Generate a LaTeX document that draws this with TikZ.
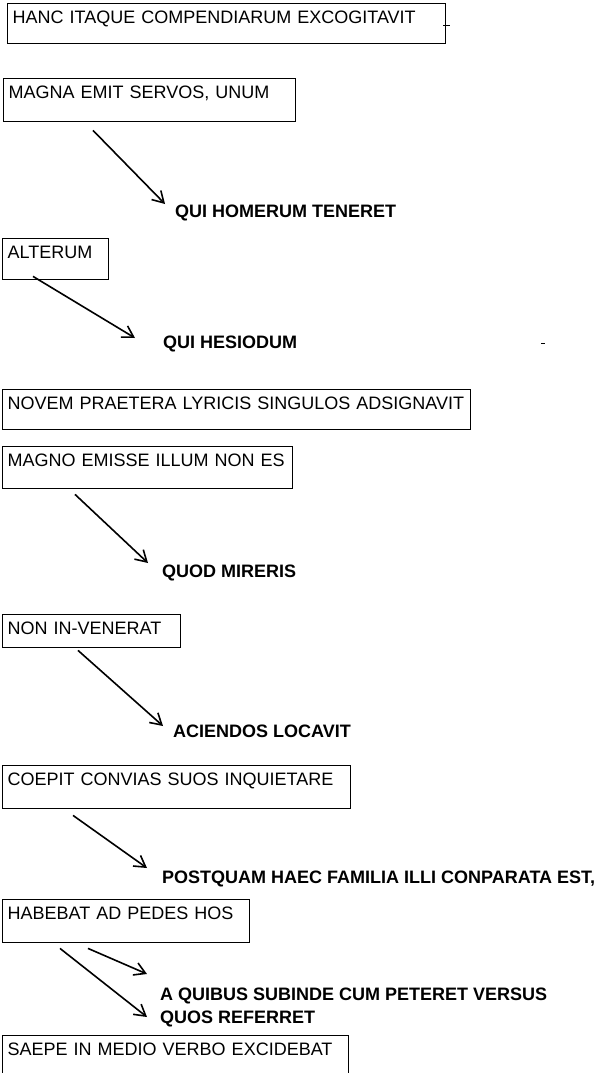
\documentclass[tikz,border=0pt]{standalone}
\usepackage{fontspec}
\setmainfont{Liberation Sans}
\usetikzlibrary{arrows.meta}
\begin{document}
\begin{tikzpicture}[x=1pt,y=-1pt,
  box/.style={draw, line width=1.4pt, anchor=north west, inner xsep=5pt, inner ysep=0pt, align=left,
    font=\fontsize{18}{21}\selectfont, text height=19.5pt},
  lbl/.style={anchor=base west, inner sep=0pt, font=\bfseries\fontsize{18}{21}\selectfont},
  arr/.style={line width=1.6pt, -{Straight Barb[length=11pt,width=13pt]}},
  speck/.style={line width=0.8pt}]
\useasboundingbox (0,0) rectangle (607,1073);
\clip (0,0) rectangle (607,1073);
% boxes
\node[box, text width=428pt, text depth=20.5pt] (b1) at (7,3) {HANC ITAQUE COMPENDIARUM EXCOGITAVIT};
\node[box, text width=282pt, text depth=23.5pt] (b2) at (3,78) {MAGNA EMIT SERVOS, UNUM};
\node[box, text width=96pt, text depth=21.5pt] (b3) at (2,238) {ALTERUM};
\node[box, text width=458pt, text depth=20.5pt] (b4) at (2,389) {NOVEM PRAETERA LYRICIS SINGULOS ADSIGNAVIT};
\node[box, text width=280pt, text depth=22.5pt] (b5) at (2,446) {MAGNO EMISSE ILLUM NON ES};
\node[box, text width=168pt, text depth=13.5pt] (b6) at (2,614) {NON IN-VENERAT};
\node[box, text width=338pt, text depth=23.5pt] (b7) at (2,765) {COEPIT CONVIAS SUOS INQUIETARE};
\node[box, text width=237pt, text depth=23.5pt] (b8) at (2,899) {HABEBAT AD PEDES HOS};
\node[box, text width=336pt, text depth=25.5pt] (b9) at (2,1035) {SAEPE IN MEDIO VERBO EXCIDEBAT};
% labels
\node[lbl] (l1) at (175,217) {QUI HOMERUM TENERET};
\node[lbl] (l2) at (163,348) {QUI HESIODUM};
\node[lbl] (l3) at (162,577) {QUOD MIRERIS};
\node[lbl] (l4) at (173,737) {ACIENDOS LOCAVIT};
\node[lbl] (l5) at (162,883) {POSTQUAM HAEC FAMILIA ILLI CONPARATA EST,};
\node[lbl] (l6) at (160,1000) {A QUIBUS SUBINDE CUM PETERET VERSUS};
\node[lbl] (l7) at (160,1023) {QUOS REFERRET};
% arrows
\draw[arr] ([shift={(90,8)}]b2.south west) -- ([shift={(-10,-13)}]l1.base west);
\draw[arr] ([shift={(31,-4)}]b3.south west) -- ([shift={(-28,-10)}]l2.base west);
\draw[arr] ([shift={(73,5)}]b5.south west) -- ([shift={(-14,-14)}]l3.base west);
\draw[arr] ([shift={(76,2)}]b6.south west) -- ([shift={(-10,-11)}]l4.base west);
\draw[arr] ([shift={(71,6)}]b7.south west) -- ([shift={(-15,-15)}]l5.base west);
\draw[arr] ([shift={(86,5)}]b8.south west) -- ([shift={(-13,-26)}]l6.base west);
\draw[arr] ([shift={(58,5)}]b8.south west) -- ([shift={(-13,-6)}]l7.base west);
% small marks of the original
\draw[speck] ([shift={(-3,22)}]b1.north east) -- ++(7,0);
\draw[speck] ([shift={(378,-5)}]l2.base west) -- ++(4,0);
\end{tikzpicture}
\end{document}
